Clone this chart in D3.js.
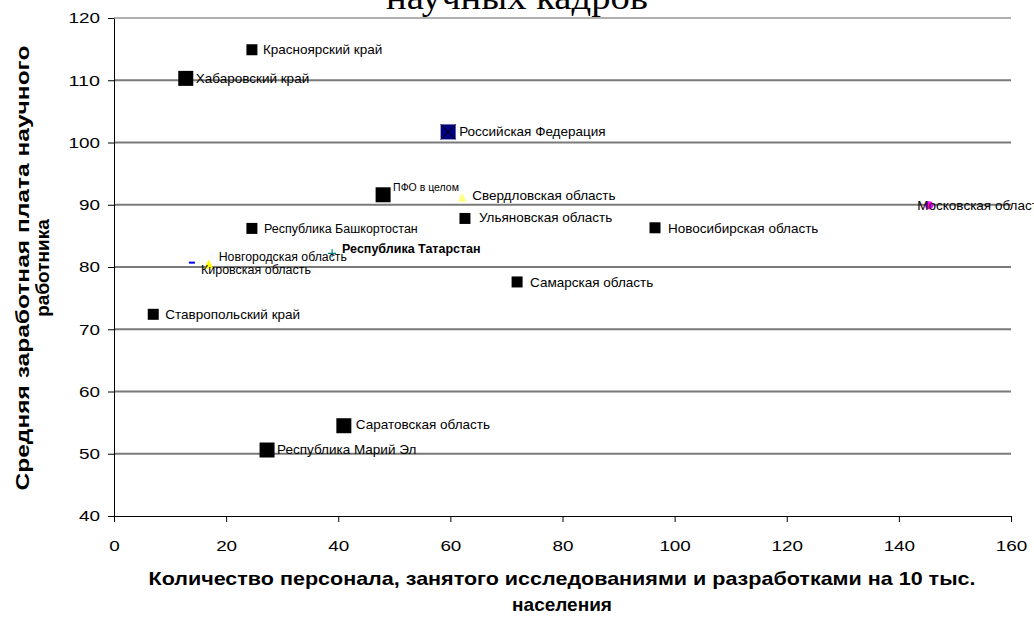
<!DOCTYPE html>
<html>
<head>
<meta charset="utf-8">
<script src="https://cdn.jsdelivr.net/npm/d3@7"></script>
<style>
  html, body { margin: 0; padding: 0; background: #fff; }
  svg { display: block; }
  text { font-family: "Liberation Sans", Arial, sans-serif; }
</style>
</head>
<body>
<svg id="chart" width="1034" height="619"></svg>
<script>
// Regions: R&D personnel per 10k population vs. average researcher salary
const regions = [
  "Красноярский край", "Хабаровский край", "Российская Федерация", "ПФО в целом",
  "Свердловская область", "Ульяновская область", "Республика Башкортостан",
  "Новосибирская область", "Московская область", "Республика Татарстан",
  "Новгородская область", "Кировская область", "Самарская область",
  "Ставропольский край", "Саратовская область", "Республика Марий Эл"
];
const personnel = [24.6, 12.8, 59.6, 48.0, 62.1, 62.6, 24.6, 96.5, 145.4, 38.9, 16.9, 13.9, 71.9, 7.0, 41.0, 27.3];
const salary    = [114.9, 110.3, 101.7, 91.6, 91.2, 87.8, 86.2, 86.3, 89.9, 82.2, 80.5, 80.7, 77.6, 72.4, 54.5, 50.6];

const xTicks = [0, 20, 40, 60, 80, 100, 120, 140, 160];
const yTicks = [40, 50, 60, 70, 80, 90, 100, 110, 120];

// Marker and label styling per point (same order as regions)
const styles = [
  { shape: "square", size: 11, fill: "#000", dx: 11, dy: 0 },
  { shape: "square", size: 15, fill: "#000", dx: 10, dy: 0 },
  { shape: "squareX", size: 15, fill: "#000080", dx: 11, dy: -1 },
  { shape: "square", size: 15, fill: "#000", dx: 10, dy: -7, fs: 10.5 },
  { shape: "triangle", size: 9, fill: "#ffff80", dx: 10, dy: -2 },
  { shape: "square", size: 11, fill: "#000", dx: 14, dy: -1 },
  { shape: "square", size: 11, fill: "#000", dx: 12, dy: 0, fs: 12.5 },
  { shape: "square", size: 11, fill: "#000", dx: 13, dy: 0 },
  { shape: "circle", size: 8, fill: "#ff00ff", dx: -12, dy: 0 },
  { shape: "plus", size: 8, fill: "#008080", dx: 10, dy: -5, bold: true, fs: 12.5 },
  { shape: "triangle", size: 9, fill: "#ffff00", dx: 10, dy: -7, fs: 12.3 },
  { shape: "dash", size: 6, fill: "#0000ff", dx: 9, dy: 7, fs: 12.5 },
  { shape: "square", size: 11, fill: "#000", dx: 13, dy: 0 },
  { shape: "square", size: 11, fill: "#000", dx: 12, dy: 0 },
  { shape: "square", size: 15, fill: "#000", dx: 12, dy: -1 },
  { shape: "square", size: 15, fill: "#000", dx: 10, dy: -1 }
];

const points = regions.map((name, i) => ({ name, x: personnel[i], y: salary[i], st: styles[i] }));

const svg = d3.select("#chart");
const x = d3.scaleLinear().domain([0, 160]).range([114, 1011]);
const y = d3.scaleLinear().domain([40, 120]).range([516, 18]);

// Title (upper line sits above the visible area)
svg.append("text")
  .attr("x", 517).attr("y", 9)
  .attr("text-anchor", "middle")
  .attr("textLength", 262).attr("lengthAdjust", "spacingAndGlyphs")
  .style("font-family", "'Liberation Serif', 'Times New Roman', serif")
  .style("font-size", "36px")
  .text("научных кадров");

// Horizontal gridlines
svg.append("g")
  .selectAll("line")
  .data(yTicks.filter(d => d > 40))
  .join("line")
  .attr("x1", x(0)).attr("x2", x(160))
  .attr("y1", d => y(d)).attr("y2", d => y(d))
  .attr("stroke", d => d === 120 ? "#b0b0b0" : "#7a7a7a")
  .attr("stroke-width", 2);

// Y axis
const yAxis = svg.append("g")
  .attr("transform", `translate(${x(0)},0)`)
  .call(d3.axisLeft(y).tickValues(yTicks).tickSize(6).tickSizeOuter(0).tickPadding(8));
yAxis.select(".domain").attr("stroke", "#000");
yAxis.selectAll(".tick line").attr("stroke", "#000");
yAxis.selectAll(".tick text")
  .style("font-family", "'Liberation Sans', Arial, sans-serif")
  .style("font-size", "15px").attr("fill", "#000")
  .attr("textLength", d => String(d).length * 10.5).attr("lengthAdjust", "spacingAndGlyphs");

// X axis
const xAxis = svg.append("g")
  .attr("transform", `translate(0,${y(40)})`)
  .call(d3.axisBottom(x).tickValues(xTicks).tickSize(6).tickSizeOuter(0).tickPadding(18));
xAxis.select(".domain").attr("stroke", "#000");
xAxis.selectAll(".tick line").attr("stroke", "#000");
xAxis.selectAll(".tick text")
  .style("font-family", "'Liberation Sans', Arial, sans-serif")
  .style("font-size", "15px").attr("fill", "#000")
  .attr("textLength", d => String(d).length * 10.5).attr("lengthAdjust", "spacingAndGlyphs");

// Axis titles
const yTitle = svg.append("text")
  .attr("transform", `translate(0,268) rotate(-90)`)
  .attr("text-anchor", "middle")
  .style("font-size", "19px").style("font-weight", "bold");
yTitle.append("tspan").attr("x", 0).attr("y", 29)
  .attr("textLength", 445).attr("lengthAdjust", "spacingAndGlyphs")
  .text("Средняя заработная плата научного");
yTitle.append("tspan").attr("x", 0).attr("y", 49)
  .text("работника");

const xTitle = svg.append("text")
  .attr("text-anchor", "middle")
  .style("font-size", "19px").style("font-weight", "bold");
xTitle.append("tspan").attr("x", 562).attr("y", 585)
  .attr("textLength", 827).attr("lengthAdjust", "spacingAndGlyphs")
  .text("Количество персонала, занятого исследованиями и разработками на 10 тыс.");
xTitle.append("tspan").attr("x", 562).attr("y", 611)
  .text("населения");

// Markers
const marks = svg.append("g")
  .selectAll("g")
  .data(points)
  .join("g")
  .attr("transform", d => `translate(${x(d.x)},${y(d.y)})`);

marks.each(function (d) {
  const g = d3.select(this);
  const s = d.st.size;
  if (d.st.shape === "square" || d.st.shape === "squareX") {
    g.append("rect").attr("x", -s / 2).attr("y", -s / 2).attr("width", s).attr("height", s)
      .attr("fill", d.st.fill);
    if (d.st.shape === "squareX") {
      g.append("path").attr("d", `M${-s / 2},${-s / 2}L${s / 2},${s / 2}M${s / 2},${-s / 2}L${-s / 2},${s / 2}`)
        .attr("stroke", "#000").attr("stroke-width", 1);
    }
  } else if (d.st.shape === "triangle") {
    g.append("path").attr("d", `M0,${-s / 2}L${s / 2},${s / 2}L${-s / 2},${s / 2}Z`).attr("fill", d.st.fill);
  } else if (d.st.shape === "circle") {
    g.append("circle").attr("r", s / 2).attr("fill", d.st.fill);
  } else if (d.st.shape === "plus") {
    g.append("path").attr("d", `M${-s / 2},0L${s / 2},0M0,${-s / 2}L0,${s / 2}`)
      .attr("stroke", d.st.fill).attr("stroke-width", 1.2);
  } else if (d.st.shape === "dash") {
    g.append("rect").attr("x", -s / 2).attr("y", -1).attr("width", s).attr("height", 2).attr("fill", d.st.fill);
  }
});

// Point labels
svg.append("g")
  .selectAll("text")
  .data(points)
  .join("text")
  .attr("x", d => x(d.x) + d.st.dx)
  .attr("y", d => y(d.y) + d.st.dy)
  .attr("dy", "0.35em")
  .style("font-size", d => (d.st.fs || 13.5) + "px")
  .style("font-weight", d => d.st.bold ? "bold" : "normal")
  .attr("fill", "#000")
  .text(d => d.name);
</script>
</body>
</html>
